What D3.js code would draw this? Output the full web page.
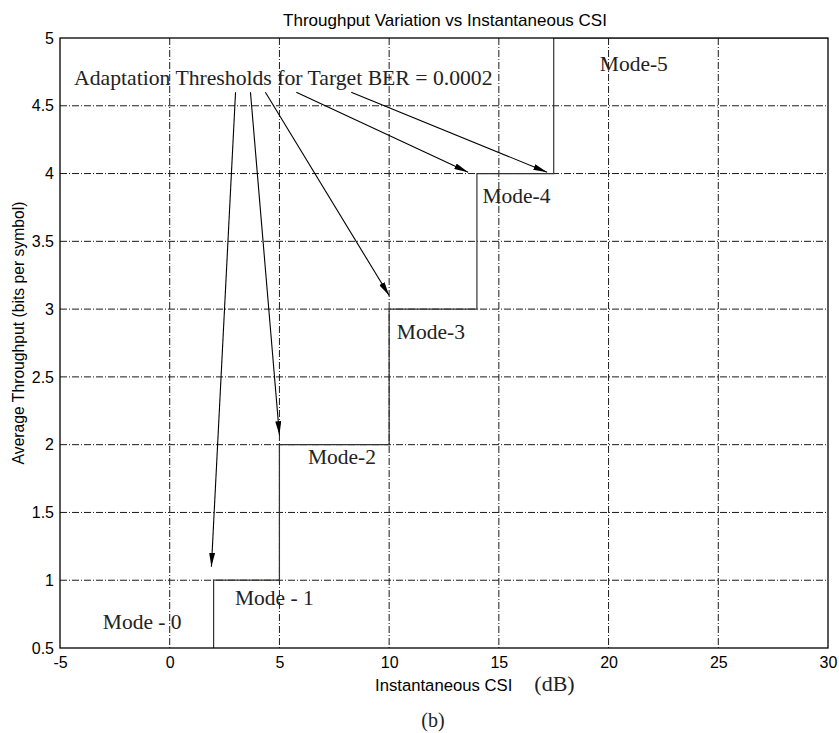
<!DOCTYPE html>
<html>
<head>
<meta charset="utf-8">
<script src="https://cdn.jsdelivr.net/npm/d3@7"></script>
<style>
  body { margin: 0; background: #fff; }
  .axis text { font-family: "Liberation Sans", Arial, sans-serif; font-size: 16px; fill: #000; }
  .axis path, .axis line { stroke: #000; }
  .grid line { stroke: #1a1a1a; stroke-width: 1; stroke-dasharray: 7,2,1,2; }
  .serif { font-family: "Liberation Serif", "Times New Roman", serif; fill: #222; }
  .sans { font-family: "Liberation Sans", Arial, sans-serif; fill: #000; }
</style>
</head>
<body>
<svg id="chart" width="839" height="733"></svg>
<script>
// mode switching thresholds (dB) and throughput of each mode
const csiSteps = [-5, 2, 5, 10, 14, 17.5];
const throughputSteps = [0, 1, 2, 3, 4, 5];
const xTicks = [-5, 0, 5, 10, 15, 20, 25, 30];
const yTicks = [0.5, 1, 1.5, 2, 2.5, 3, 3.5, 4, 4.5, 5];

// mode labels: [text, csi, throughput] of label's left baseline
const modeLabels = [
  ['Mode - 0', -3.05, 0.64],
  ['Mode - 1', 2.97, 0.82],
  ['Mode-2', 6.3, 1.86],
  ['Mode-3', 10.35, 2.78],
  ['Mode-4', 14.25, 3.78],
  ['Mode-5', 19.6, 4.76]
];

// annotation arrows: tail [csi, tp] -> head [csi, tp]
const arrowTails = [[3.0, 4.6], [3.68, 4.6], [4.36, 4.6], [5.77, 4.6], [8.27, 4.6]];
const arrowHeads = [[1.9, 1.1], [5.0, 2.07], [10.0, 3.1], [13.6, 4.01], [17.2, 4.01]];

const margin = { top: 38, right: 11, bottom: 85, left: 60 };
const W = 839, H = 733;
const width = W - margin.left - margin.right;
const height = H - margin.top - margin.bottom;

const svg = d3.select('#chart');

const x = d3.scaleLinear().domain([-5, 30]).range([0, width]);
const y = d3.scaleLinear().domain([0.5, 5]).range([height, 0]);

svg.append('defs').append('clipPath').attr('id', 'plotclip')
  .append('rect').attr('width', width).attr('height', height);

svg.select('defs').append('marker')
  .attr('id', 'head')
  .attr('viewBox', '0 -3 14 6')
  .attr('refX', 14).attr('refY', 0)
  .attr('markerWidth', 14).attr('markerHeight', 6)
  .attr('markerUnits', 'userSpaceOnUse')
  .attr('orient', 'auto')
  .append('path').attr('d', 'M0,-3L14,0L0,3Z').attr('fill', '#000');

const g = svg.append('g').attr('transform', `translate(${margin.left},${margin.top})`);

// grid
const grid = g.append('g').attr('class', 'grid');
grid.selectAll('.gx').data(xTicks.slice(1, -1)).join('line')
  .attr('x1', d => x(d)).attr('x2', d => x(d))
  .attr('y1', 0).attr('y2', height);
grid.selectAll('.gy').data(yTicks.slice(1, -1)).join('line')
  .attr('x1', 0).attr('x2', width)
  .attr('y1', d => y(d)).attr('y2', d => y(d));

// step curve
const stepData = csiSteps.map((c, i) => ({ csi: c, tp: throughputSteps[i] }));
stepData.push({ csi: 30, tp: 5 });
const stepLine = d3.line()
  .x(d => x(d.csi))
  .y(d => y(d.tp))
  .curve(d3.curveStepAfter);
g.append('path')
  .datum(stepData)
  .attr('clip-path', 'url(#plotclip)')
  .attr('fill', 'none')
  .attr('stroke', '#333')
  .attr('stroke-width', 1.2)
  .attr('d', stepLine);

// axes
const axB = d3.axisBottom(x).tickValues(xTicks).tickSize(0).tickPadding(9).tickFormat(d => String(d));
const axL = d3.axisLeft(y).tickValues(yTicks).tickSize(0).tickPadding(6).tickFormat(d => String(d));
g.append('g').attr('class', 'axis').attr('transform', `translate(0,${height})`).call(axB)
  .call(a => a.select('.domain').remove());
g.append('g').attr('class', 'axis').call(axL)
  .call(a => a.select('.domain').remove());
g.append('rect')
  .attr('width', width).attr('height', height)
  .attr('fill', 'none').attr('stroke', '#000').attr('stroke-width', 1.3);

// mode labels
g.selectAll('.mode').data(modeLabels).join('text')
  .attr('class', 'serif')
  .attr('x', d => x(d[1])).attr('y', d => y(d[2]))
  .attr('font-size', 21.5)
  .text(d => d[0]);

// annotation
g.append('text')
  .attr('class', 'serif')
  .attr('x', x(-4.36)).attr('y', y(4.65))
  .attr('font-size', 21.7)
  .attr('fill', '#000')
  .text('Adaptation Thresholds for Target BER = 0.0002');

g.selectAll('.arrow').data(arrowTails).join('line')
  .attr('x1', d => x(d[0])).attr('y1', d => y(d[1]))
  .attr('x2', (d, i) => x(arrowHeads[i][0])).attr('y2', (d, i) => y(arrowHeads[i][1]))
  .attr('stroke', '#000').attr('stroke-width', 1.1)
  .attr('marker-end', 'url(#head)');

// titles
svg.append('text').attr('class', 'sans')
  .attr('x', 445).attr('y', 26)
  .attr('text-anchor', 'middle').attr('font-size', 17)
  .text('Throughput Variation vs Instantaneous CSI');

svg.append('text').attr('class', 'sans')
  .attr('transform', 'translate(24,333) rotate(-90)')
  .attr('text-anchor', 'middle').attr('font-size', 15.7)
  .text('Average Throughput (bits per symbol)');

const xl = svg.append('text').attr('x', 375).attr('y', 691);
xl.append('tspan').attr('class', 'sans').attr('font-size', 16.7).text('Instantaneous CSI');
xl.append('tspan').attr('class', 'serif').attr('font-size', 22).attr('dx', 22).text('(dB)');

svg.append('text').attr('class', 'serif')
  .attr('x', 433).attr('y', 727)
  .attr('text-anchor', 'middle').attr('font-size', 20)
  .text('(b)');
</script>
</body>
</html>
